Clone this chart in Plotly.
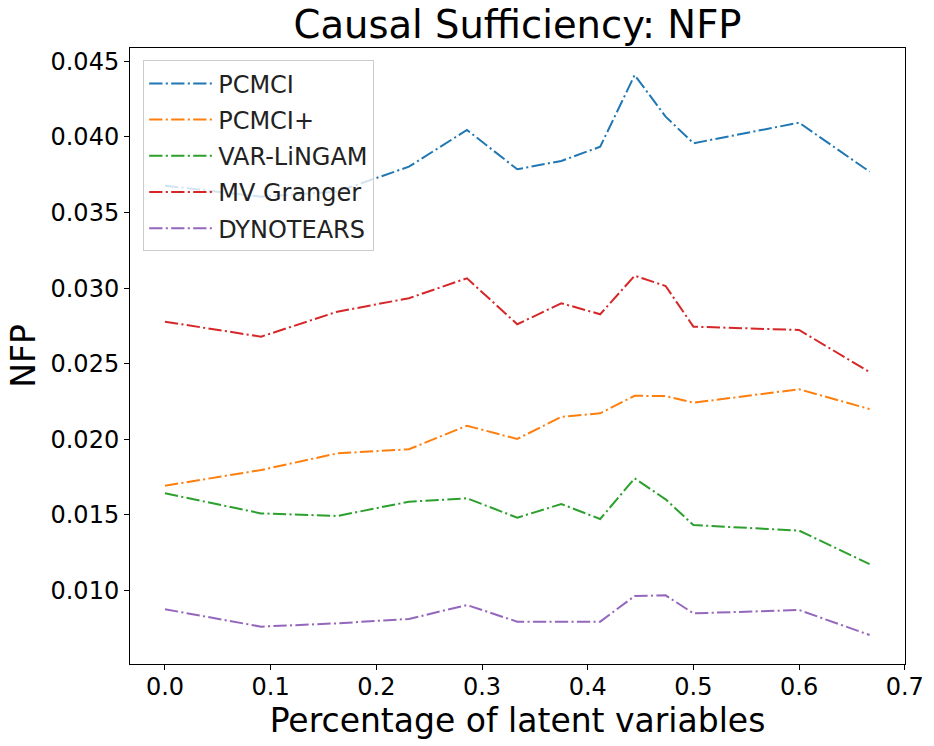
import plotly.graph_objects as go

x_vals = [0.0, 0.0909, 0.163, 0.2308, 0.2857, 0.3333, 0.375, 0.4118, 0.4444, 0.4737, 0.5, 0.6, 0.6667]

pcmci = [0.03677, 0.03605, 0.03638, 0.03803, 0.04046, 0.03786, 0.03841, 0.03935, 0.04409, 0.04134, 0.03958, 0.04094, 0.03770]
pcmci_plus = [0.01693, 0.01797, 0.01907, 0.01934, 0.02090, 0.02002, 0.02149, 0.02172, 0.02288, 0.02286, 0.02242, 0.02331, 0.02200]
var_lingam = [0.01643, 0.01510, 0.01493, 0.01587, 0.01610, 0.01482, 0.01572, 0.01473, 0.01742, 0.01603, 0.01433, 0.01396, 0.01175]
mv_granger = [0.02778, 0.02679, 0.02844, 0.02933, 0.03065, 0.02761, 0.02900, 0.02827, 0.03082, 0.03014, 0.02745, 0.02723, 0.02445]
dynotears = [0.00876, 0.00761, 0.00783, 0.00812, 0.00904, 0.00794, 0.00794, 0.00794, 0.00964, 0.00968, 0.00849, 0.00871, 0.00706]

series_names = ["PCMCI", "PCMCI+", "VAR-LiNGAM", "MV Granger", "DYNOTEARS"]
series_values = [pcmci, pcmci_plus, var_lingam, mv_granger, dynotears]
colors = ["#1f77b4", "#ff7f0e", "#2ca02c", "#d62728", "#9467bd"]

x_ticks = [0.0, 0.1, 0.2, 0.3, 0.4, 0.5, 0.6, 0.7]
y_ticks = [0.010, 0.015, 0.020, 0.025, 0.030, 0.035, 0.040, 0.045]

FONT = "DejaVu Sans"
dash = "13.3px,3.3px,2.1px,3.3px"

fig = go.Figure()
for i, (name, vals, col) in enumerate(zip(series_names, series_values, colors)):
    fig.add_trace(go.Scatter(
        x=x_vals, y=vals, mode="lines", name=name,
        legendgroup=f"g{i}",
        line=dict(color=col, width=2, dash=dash),
    ))

axis_common = dict(
    showline=True, linecolor="black", linewidth=1, mirror=True,
    ticks="outside", ticklen=5, tickwidth=1, tickcolor="black",
    showgrid=False, zeroline=False, automargin=False,
    tickfont=dict(family=FONT, size=24, color="black"),
)

fig.update_layout(
    width=934, height=746,
    margin=dict(l=130, r=29, t=48, b=82, autoexpand=False),
    paper_bgcolor="white", plot_bgcolor="white",
    font=dict(family=FONT, color="black"),
    title=dict(text="Causal Sufficiency: NFP", x=0.5, xref="paper",
               y=1 - 25 / 746, yref="container", yanchor="middle", xanchor="center",
               font=dict(family=FONT, size=38.5, color="black")),
    xaxis=dict(range=[-0.0331, 0.7002], tickvals=x_ticks, tickformat=".1f",
               ticklabelstandoff=-4,
               title=dict(text="Percentage of latent variables", standoff=2,
                          font=dict(family=FONT, size=33, color="black")),
               **axis_common),
    yaxis=dict(range=[0.00514, 0.04588], tickvals=y_ticks, tickformat=".3f",
               title=dict(text="NFP", standoff=4,
                          font=dict(family=FONT, size=33, color="black")),
               **axis_common),
    legend=dict(x=0.017, y=0.98, xanchor="left", yanchor="top",
                bgcolor="rgba(255,255,255,0.8)", bordercolor="#cccccc", borderwidth=1,
                font=dict(family=FONT, size=24, color="#222222"),
                traceorder="grouped", tracegroupgap=2, itemwidth=64),
    showlegend=True,
)

fig.write_html("out.html", config={"displayModeBar": False},
               post_script="document.body.style.margin='0';")
